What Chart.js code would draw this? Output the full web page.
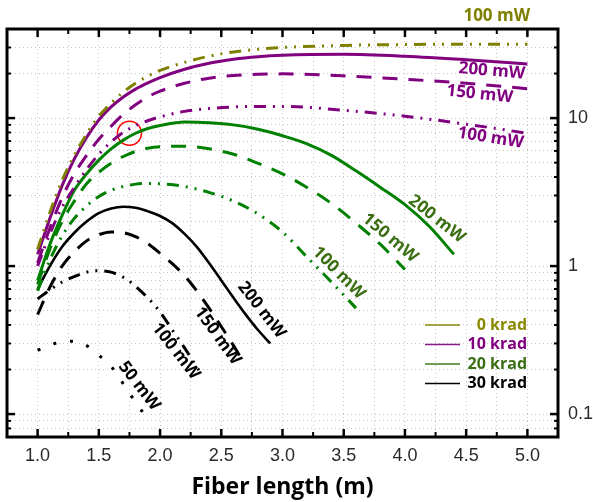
<!DOCTYPE html>
<html><head><meta charset="utf-8">
<script src="https://cdn.jsdelivr.net/npm/chart.js@4/dist/chart.umd.min.js"></script>
<style>html,body{margin:0;padding:0;background:#fff}canvas{display:block}</style>
</head><body>
<canvas id="c" width="593" height="502"></canvas>
<script>
// ---------- data ----------
const xA = [1.0,1.1,1.2,1.3,1.4,1.5,1.6,1.7,1.8,1.9,2.0,2.2,2.4,2.6,2.8,3.0,3.5,4.0,4.5,5.0];
const olive100  = [1.3,2.3,3.8,5.6,7.8,10.3,12.6,15.0,17.2,19.2,21.0,23.8,26.2,28.0,29.2,30.0,31.0,31.4,31.6,31.6];
const purple200 = [1.2,2.1,3.5,5.3,7.4,9.7,11.9,13.9,15.7,17.3,18.8,21.4,23.5,25.0,26.0,26.6,27.0,26.2,24.8,23.2];
const purple150 = [1.05,1.8,2.9,4.2,5.6,7.2,8.8,10.6,12.3,13.9,15.2,17.2,18.6,19.4,19.8,19.9,19.3,18.3,17.2,15.8];
const purple100 = [1.0,1.65,2.5,3.4,4.5,5.7,6.9,8.0,8.9,9.6,10.2,11.1,11.6,11.9,12.0,12.0,11.3,10.3,9.1,7.9];

const xG200 = [1.0,1.1,1.2,1.3,1.4,1.5,1.6,1.7,1.8,1.9,2.0,2.2,2.4,2.6,2.8,3.0,3.2,3.4,3.6,3.8,4.0,4.2,4.4];
const green200 = [0.8,1.4,2.2,3.25,4.2,5.2,6.2,7.1,7.9,8.5,8.9,9.4,9.3,9.0,8.4,7.6,6.7,5.6,4.4,3.4,2.6,1.85,1.2];
const xG150 = [1.0,1.1,1.2,1.3,1.4,1.5,1.6,1.7,1.8,1.9,2.0,2.2,2.4,2.6,2.8,3.0,3.2,3.4,3.6,3.8,4.0];
const green150 = [0.75,1.3,2.0,2.75,3.6,4.3,4.95,5.5,5.95,6.25,6.4,6.45,6.2,5.7,4.95,4.2,3.4,2.65,1.95,1.4,0.95];
const xG100 = [1.0,1.1,1.2,1.3,1.4,1.5,1.6,1.7,1.8,1.9,2.0,2.2,2.4,2.6,2.8,3.0,3.2,3.4,3.6];
const green100 = [0.68,1.1,1.6,2.1,2.55,2.95,3.25,3.45,3.58,3.62,3.6,3.45,3.15,2.75,2.25,1.7,1.15,0.78,0.52];

const xK200 = [1.0,1.1,1.2,1.3,1.4,1.5,1.6,1.7,1.8,1.9,2.0,2.1,2.2,2.3,2.4,2.5,2.6,2.7,2.8,2.9];
const black200 = [0.70,1.0,1.35,1.68,2.0,2.28,2.45,2.52,2.48,2.35,2.18,1.95,1.65,1.35,1.05,0.8,0.61,0.47,0.37,0.30];
const xK150 = [1.0,1.1,1.2,1.3,1.4,1.5,1.6,1.7,1.8,1.9,2.0,2.1,2.2,2.3,2.4,2.5,2.6,2.66];
const black150 = [0.47,0.72,1.0,1.25,1.48,1.63,1.70,1.68,1.58,1.42,1.22,1.04,0.86,0.68,0.52,0.39,0.29,0.24];
const xK100 = [1.0,1.1,1.2,1.3,1.4,1.5,1.6,1.7,1.8,1.9,2.0,2.1,2.2,2.33];
const black100 = [0.60,0.69,0.78,0.85,0.91,0.93,0.91,0.84,0.73,0.61,0.49,0.37,0.28,0.19];
const xK50 = [1.0,1.1,1.2,1.3,1.4,1.5,1.6,1.7,1.8,1.87];
const black50 = [0.27,0.29,0.31,0.31,0.29,0.25,0.21,0.16,0.12,0.10];

const markX = [1.75];
const markY = [7.9];

const xTickVals = [0.75,1.0,1.25,1.5,1.75,2.0,2.25,2.5,2.75,3.0,3.25,3.5,3.75,4.0,4.25,4.5,4.75,5.0,5.25];
const xLabelVals = [1.0,1.5,2.0,2.5,3.0,3.5,4.0,4.5,5.0];
const yTickVals = [0.07,0.08,0.09,0.1,0.2,0.3,0.4,0.5,0.6,0.7,0.8,0.9,1,2,3,4,5,6,7,8,9,10,20,30,40];
const yLabelVals = [0.1,1,10];

const legendLabels = ['0 krad','10 krad','20 krad','30 krad'];
const legendColors = ['#8a8a0a','#8a1a8a','#3f7a1a','#000000'];
const legendText   = ['#8a8a00','#800080','#3a6e12','#000000'];

const annText  = ['100 mW','200 mW','150 mW','100 mW','200 mW','150 mW','100 mW','200 mW','150 mW','100 mW','50 mW'];
const annX     = [4.75,4.71,4.61,4.70,4.26,3.88,3.46,2.83,2.47,2.13,1.83];
const annY     = [48.9,20.8,14.5,7.35,2.08,1.55,0.90,0.505,0.337,0.266,0.155];
const annAngle = [0,5,6,9,38,40,45,52,54,52,52];
const annColor = ['#808000','#800080','#800080','#800080','#3a6e12','#3a6e12','#3a6e12','#000','#000','#000','#000'];

// ---------- styling ----------
const OLIVE='#808000', PURPLE='#800080', GREEN='#008000', BLACK='#000000';
const DASH=[15,11], DDOT=[12,7,2,7,2,7], DOT=[3,14];

function pts(xs, ys){ return xs.map((x,i)=>({x:x,y:ys[i]})); }
function ds(label, xs, ys, color, dash, w){
  return {label, data:pts(xs,ys), borderColor:color, borderWidth:w||3, borderDash:dash||[],
    pointRadius:0, fill:false, cubicInterpolationMode:'monotone', borderCapStyle:'butt'};
}
const datasets = [
  ds('0 krad 100', xA, olive100, OLIVE, DDOT),
  ds('10 krad 200', xA, purple200, PURPLE, []),
  ds('10 krad 150', xA, purple150, PURPLE, DASH),
  ds('10 krad 100', xA, purple100, PURPLE, DDOT),
  ds('20 krad 200', xG200, green200, GREEN, []),
  ds('20 krad 150', xG150, green150, GREEN, DASH),
  ds('20 krad 100', xG100, green100, GREEN, DDOT),
  ds('30 krad 200', xK200, black200, BLACK, [], 2.6),
  ds('30 krad 150', xK150, black150, BLACK, DASH),
  ds('30 krad 100', xK100, black100, BLACK, DDOT),
  ds('30 krad 50', xK50, black50, BLACK, DOT),
  {label:'mark', data:pts(markX,markY), showLine:false, pointRadius:12, pointBorderColor:'#ff0000',
   pointBackgroundColor:'rgba(0,0,0,0)', pointBorderWidth:1.5, borderColor:'#ff0000'}
];

const near = (a,b)=>Math.abs(a-b)<1e-6;
const isXLabel = v => xLabelVals.some(t=>near(t,v));
const isYLabel = v => yLabelVals.some(t=>Math.abs(t-v)/t<1e-6);

const decor = {
  id:'decor',
  afterDatasetsDraw(chart){
    const {ctx, chartArea:a, scales:{x,y}} = chart;
    ctx.save();
    ctx.strokeStyle='#000';
    const line=(x1,y1,x2,y2)=>{ctx.beginPath();ctx.moveTo(x1,y1);ctx.lineTo(x2,y2);ctx.stroke();};
    xTickVals.forEach(v=>{
      const px=x.getPixelForValue(v);
      if(px<=a.left+1||px>=a.right-1) return;
      const maj=isXLabel(v); const L=maj?8:5; ctx.lineWidth=maj?2.5:2;
      line(px,a.top,px,a.top+L); line(px,a.bottom,px,a.bottom-L);
    });
    yTickVals.forEach(v=>{
      const py=y.getPixelForValue(v);
      if(py<=a.top+1||py>=a.bottom-1) return;
      const maj=isYLabel(v); const L=maj?8:4; ctx.lineWidth=maj?2.5:2;
      line(a.left,py,a.left+L,py); line(a.right,py,a.right-L,py);
    });
    ctx.lineWidth=3;
    ctx.strokeRect(a.left,a.top,a.right-a.left,a.bottom-a.top);
    // legend
    ctx.font='bold 16px "Open Sans"';
    ctx.textAlign='right'; ctx.textBaseline='middle';
    legendLabels.forEach((t,i)=>{
      const yy=325+i*19.5;
      ctx.strokeStyle=legendColors[i]; ctx.lineWidth=1.5;
      line(425,yy,460,yy);
      ctx.fillStyle=legendText[i];
      ctx.fillText(t,527,yy);
    });
    // curve labels
    ctx.textAlign='center';
    annText.forEach((t,i)=>{
      ctx.save();
      ctx.translate(x.getPixelForValue(annX[i]), y.getPixelForValue(annY[i]));
      ctx.rotate(annAngle[i]*Math.PI/180);
      ctx.font='bold 17px "Open Sans"';
      ctx.fillStyle=annColor[i];
      ctx.fillText(t,0,0);
      ctx.restore();
    });
    ctx.restore();
  }
};

new Chart(document.getElementById('c'), {
  type:'line',
  data:{datasets},
  options:{
    responsive:false, animation:false, events:[],
    layout:{autoPadding:false, padding:{left:7,top:29,right:0,bottom:0}},
    plugins:{legend:{display:false}, tooltip:{enabled:false}},
    scales:{
      x:{type:'linear', min:0.75, max:5.25, position:'bottom',
        afterBuildTicks:s=>{ s.ticks = xTickVals.map(v=>({value:v})); },
        afterFit:s=>{ s.height=65; s.paddingLeft=0; s.paddingRight=0; },
        ticks:{autoSkip:false, maxRotation:0, padding:8, color:'#2a2a2a',
          font:{family:'"Liberation Sans"', size:18},
          callback:v=> isXLabel(v) ? v.toFixed(1) : ''},
        grid:{color:'#c4c4c4', lineWidth:1, drawTicks:false},
        border:{display:false, dash:[1,3]},
        title:{display:true, text:'Fiber length (m)', color:'#000',
          font:{family:'"Open Sans"', weight:'bold', size:23}, padding:{top:0,bottom:1}}
      },
      y:{type:'logarithmic', min:0.07, max:40, position:'right',
        afterBuildTicks:s=>{ s.ticks = yTickVals.map(v=>({value:v})); },
        afterFit:s=>{ s.width=35; s.paddingTop=0; s.paddingBottom=0; },
        ticks:{autoSkip:false, padding:10, color:'#2a2a2a',
          font:{family:'"Liberation Sans"', size:18},
          callback:v=> isYLabel(v) ? String(v) : ''},
        grid:{color:'#c4c4c4', lineWidth:1, drawTicks:false},
        border:{display:false, dash:[1,3]}
      }
    }
  },
  plugins:[decor]
});
</script>
</body></html>
